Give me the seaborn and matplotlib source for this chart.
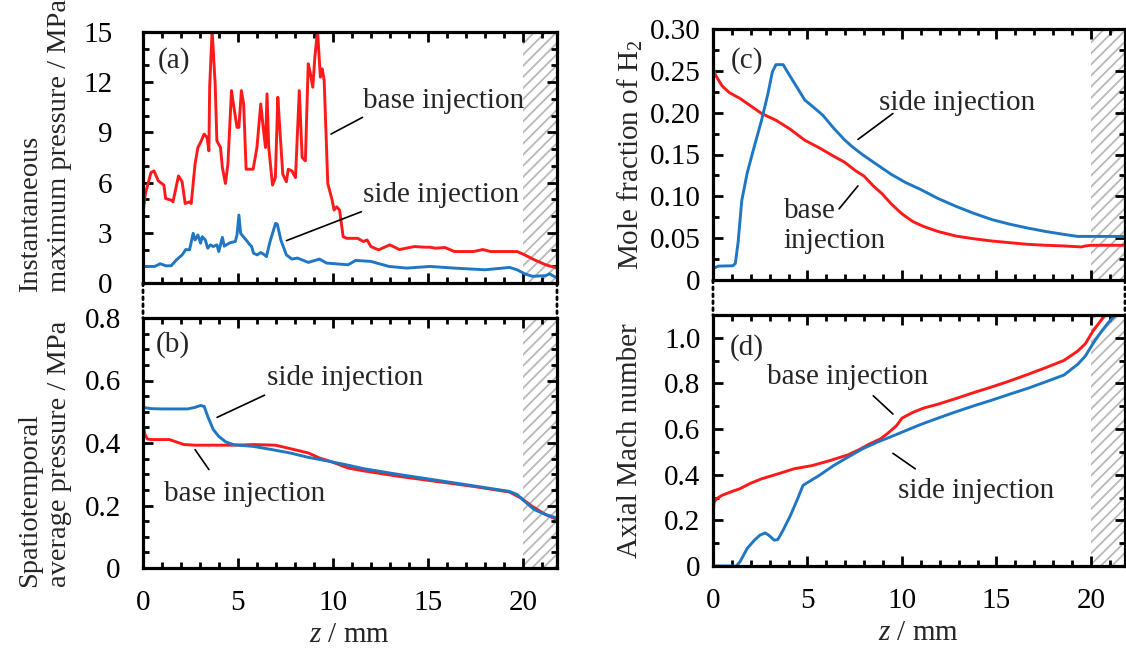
import numpy as np
import pandas as pd
import matplotlib
matplotlib.use('Agg')
import matplotlib.pyplot as plt
import seaborn as sns
from matplotlib.ticker import MultipleLocator, FuncFormatter
from matplotlib.patches import ConnectionPatch

# ---------------- data ----------------
# (a) instantaneous maximum pressure / MPa
a_base_z = [0, 0.13, 0.42, 0.58, 0.81, 1.1, 1.19, 1.48, 1.58, 1.87, 2.06, 2.22, 2.45, 2.54, 2.74, 2.89,
            3.03, 3.22, 3.37, 3.47, 3.51, 3.64, 3.8, 3.89, 4.08, 4.18, 4.34, 4.47, 4.66, 4.76, 4.95, 5.05,
            5.18, 5.3, 5.43, 5.8, 6.0, 6.2, 6.33, 6.45, 6.53, 6.62, 6.82, 6.97, 7.1, 7.2, 7.36, 7.55, 7.65,
            7.84, 8.03, 8.23, 8.38, 8.55, 8.7, 8.8, 8.94, 9.05, 9.19, 9.34, 9.44, 9.54, 9.67, 9.73, 9.96,
            10.06, 10.2, 10.35, 10.54, 10.73, 11.3, 11.6, 11.8, 12.0, 12.4, 13.0, 13.5, 14.3, 14.8, 15.1,
            15.4, 15.9, 16.4, 17.4, 17.9, 18.3, 19.7, 20.1, 20.6, 21.2, 21.8]
a_base_p = [4.26, 5.35, 6.6, 6.7, 6.1, 5.85, 5.05, 4.95, 4.85, 6.4, 6.05, 4.75, 4.85, 4.75, 7.1, 8.1,
            8.4, 8.9, 8.7, 7.9, 11.7, 15.1, 11.9, 8.5, 8.1, 6.9, 5.95, 7.1, 11.5, 10.7, 9.3, 9.3,
            11.5, 10.7, 6.8, 6.8, 8.1, 10.7, 9.3, 8.1, 11.3, 8.1, 5.85, 6.3, 11.1, 9.3, 6.5, 6.05, 6.8,
            6.7, 6.3, 11.5, 7.5, 7.3, 13.1, 12.6, 11.7, 13.5, 15.1, 12.3, 12.8, 12.1, 7.9, 5.95, 4.95,
            4.36, 4.55, 4.36, 2.77, 2.67, 2.67, 2.48, 2.57, 2.18, 1.98, 2.28, 2.0, 2.18, 2.14, 2.14,
            2.08, 2.12, 1.88, 1.88, 2.0, 1.88, 1.88, 1.68, 1.39, 1.09, 0.89]
a_side_z = [0, 0.62, 0.9, 1.2, 1.48, 1.77, 2.06, 2.25, 2.45, 2.64, 2.74, 2.89, 3.03, 3.12, 3.28, 3.41,
            3.55, 3.7, 3.89, 3.99, 4.18, 4.28, 4.57, 4.86, 4.95, 5.05, 5.14, 5.43, 5.63, 5.72, 5.82, 6.01,
            6.2, 6.4, 6.5, 6.69, 6.98, 7.07, 7.26, 7.55, 7.84, 8.13, 8.71, 9.29, 9.67, 10.8, 11.2, 12.0,
            12.95, 13.9, 15.1, 16.4, 18.0, 19.3, 19.7, 20.1, 20.5, 21.2, 21.4, 21.8]
a_side_p = [0.99, 0.99, 1.15, 1.03, 1.03, 1.39, 1.68, 2.0, 1.98, 2.97, 2.57, 2.87, 2.38, 2.77, 2.57, 2.08,
            2.28, 2.18, 2.28, 1.88, 2.73, 2.2, 2.4, 2.48, 2.87, 4.06, 2.97, 2.57, 2.28, 2.18, 1.78, 1.68,
            1.82, 1.68, 1.58, 2.48, 3.56, 3.52, 2.57, 1.68, 1.43, 1.49, 1.23, 1.43, 1.19, 1.09, 1.35, 1.29,
            0.99, 0.89, 0.99, 0.89, 0.79, 0.93, 0.79, 0.55, 0.40, 0.44, 0.55, 0.30]

# (b) spatiotemporal average pressure / MPa
b_base_z = [0, 0.1, 0.23, 0.42, 1.39, 1.77, 2.16, 2.74, 3.89, 4.86, 5.82, 6.97, 7.75, 8.71, 9.29, 9.87,
            10.8, 11.6, 13.5, 15.45, 17.4, 19.3, 19.9, 20.5, 21.2, 21.8]
b_base_p = [0.464, 0.427, 0.413, 0.411, 0.411, 0.403, 0.395, 0.393, 0.393, 0.393, 0.395, 0.393, 0.382,
            0.368, 0.352, 0.341, 0.32, 0.311, 0.293, 0.277, 0.261, 0.243, 0.224, 0.197, 0.171, 0.155]
b_side_z = [0, 0.42, 1.0, 2.35, 2.74, 3.03, 3.22, 3.41, 3.7, 3.99, 4.37, 4.76, 5.05, 5.82, 6.78, 7.75,
            8.71, 9.67, 10.8, 11.6, 13.5, 15.45, 17.4, 19.3, 19.7, 20.1, 20.6, 21.2, 21.8]
b_side_p = [0.514, 0.51, 0.509, 0.509, 0.514, 0.52, 0.517, 0.485, 0.443, 0.421, 0.403, 0.395, 0.393,
            0.389, 0.379, 0.368, 0.354, 0.343, 0.329, 0.318, 0.299, 0.281, 0.263, 0.245, 0.235, 0.213,
            0.187, 0.171, 0.16]

# (c) mole fraction of H2
c_base_z = [0, 0.13, 0.48, 0.86, 1.43, 2.0, 2.57, 3.33, 4.1, 4.86, 5.62, 6.38, 6.95, 7.52, 8.0, 8.48,
            8.95, 9.43, 10.0, 10.57, 11.14, 11.9, 12.86, 13.8, 14.76, 15.7, 16.67, 17.6, 18.57, 19.5,
            19.7, 20.0, 21.8]
c_base_x = [0.2546, 0.245, 0.232, 0.224, 0.217, 0.208, 0.199, 0.191, 0.18, 0.167, 0.158, 0.148, 0.141,
            0.131, 0.124, 0.1125, 0.103, 0.091, 0.079, 0.0699, 0.064, 0.058, 0.0525, 0.0493, 0.0466,
            0.0446, 0.0426, 0.0415, 0.0407, 0.0395, 0.0407, 0.0415, 0.0415]
c_side_z = [0, 0.29, 1.05, 1.18, 1.33, 1.52, 1.81, 2.19, 2.57, 2.91, 3.14, 3.33, 3.71, 4.1, 4.48, 4.86,
            5.24, 5.81, 6.38, 6.95, 7.33, 7.9, 8.67, 9.43, 10.19, 10.95, 11.9, 12.86, 13.8, 14.76, 15.7,
            16.67, 17.6, 18.57, 19.3, 20.0, 21.8]
c_side_x = [0.0138, 0.0166, 0.017, 0.0197, 0.0454, 0.0947, 0.128, 0.16, 0.191, 0.223, 0.2487, 0.2574,
            0.2574, 0.2428, 0.229, 0.215, 0.208, 0.197, 0.1816, 0.1678, 0.16, 0.15, 0.138, 0.1263, 0.1165,
            0.1086, 0.0975, 0.088, 0.0797, 0.0722, 0.0667, 0.062, 0.058, 0.0545, 0.0521, 0.0521, 0.0521]

# (d) axial Mach number
d_base_z = [0, 0.06, 0.19, 0.48, 1.05, 1.43, 2.0, 2.57, 3.33, 4.29, 5.24, 6.19, 7.14, 7.71, 8.29, 8.86,
            9.24, 9.71, 10.0, 10.57, 11.14, 11.9, 12.86, 13.8, 14.76, 15.7, 16.67, 17.6, 18.57, 19.3,
            19.7, 20.1, 20.5, 20.8]
d_base_m = [0.237, 0.28, 0.295, 0.31, 0.328, 0.339, 0.363, 0.382, 0.401, 0.426, 0.44, 0.462, 0.487,
            0.509, 0.535, 0.557, 0.581, 0.615, 0.648, 0.673, 0.692, 0.709, 0.734, 0.76, 0.785, 0.811,
            0.84, 0.869, 0.901, 0.942, 0.974, 1.029, 1.073, 1.109]
d_side_z = [0, 1.24, 1.43, 1.81, 2.19, 2.48, 2.76, 2.95, 3.24, 3.43, 3.71, 4.1, 4.48, 4.76, 4.95, 5.62,
            6.38, 7.14, 7.9, 8.67, 9.43, 10.19, 10.95, 11.9, 12.86, 13.8, 14.76, 15.7, 16.67, 17.6,
            18.57, 19.3, 19.7, 20.1, 20.5, 20.9, 21.3]
d_side_m = [0.0, 0.0, 0.019, 0.077, 0.113, 0.135, 0.145, 0.135, 0.113, 0.116, 0.157, 0.222, 0.295,
            0.353, 0.363, 0.397, 0.44, 0.477, 0.513, 0.542, 0.567, 0.593, 0.619, 0.648, 0.676, 0.702,
            0.727, 0.753, 0.779, 0.807, 0.837, 0.884, 0.92, 0.974, 1.022, 1.065, 1.1]

series_names = ['base injection', 'side injection']
colors = {'base injection': '#ff1a1a', 'side injection': '#1f77c4'}
panel_labels = ['(a)', '(b)', '(c)', '(d)']
ylabels = ['Instantaneous\nmaximum pressure / MPa',
           'Spatiotemporal\naverage pressure / MPa',
           r'Mole fraction of H$_2$',
           'Axial Mach number']
xlabel = r'$z$ / mm'
z_max = 21.8
exit_start = 20.0

# ---------------- style ----------------
sns.set_style('ticks')
plt.rcParams.update({
    'font.family': ['Liberation Serif', 'DejaVu Serif'],
    'mathtext.fontset': 'custom',
    'mathtext.rm': 'Liberation Serif',
    'mathtext.it': 'Liberation Serif:italic',
    'hatch.linewidth': 1.3,
    'axes.linewidth': 2.3,
    'font.size': 21,
})
FS = 21

W, H = 1126, 651
fig = plt.figure(figsize=(W / 100, H / 100), dpi=100)


def rect(l, t, r, b):
    return [l / W, 1 - b / H, (r - l) / W, (b - t) / H]


ax_a = fig.add_axes(rect(143, 32, 557, 283))
ax_b = fig.add_axes(rect(143, 318, 557, 568))
ax_c = fig.add_axes(rect(713, 29, 1125, 280))
ax_d = fig.add_axes(rect(713, 315, 1125, 566))


def long_df(bz, bv, sz, sv):
    return pd.concat([
        pd.DataFrame({'z': bz, 'v': bv, 'case': series_names[0]}),
        pd.DataFrame({'z': sz, 'v': sv, 'case': series_names[1]}),
    ], ignore_index=True)


dfs = [long_df(a_base_z, a_base_p, a_side_z, a_side_p),
       long_df(b_base_z, b_base_p, b_side_z, b_side_p),
       long_df(c_base_z, c_base_x, c_side_z, c_side_x),
       long_df(d_base_z, d_base_m, d_side_z, d_side_m)]
axes = [ax_a, ax_b, ax_c, ax_d]
ylims = [(0, 15), (0, 0.8), (0, 0.30), (0, 1.1)]
ymaj = [3, 0.2, 0.05, 0.2]
ymin = [1, 0.05, 0.025, 0.1]
fmts = [lambda v, p: '%g' % v,
        lambda v, p: '0' if abs(v) < 1e-9 else '%.1f' % v,
        lambda v, p: '0' if abs(v) < 1e-9 else '%.2f' % v,
        lambda v, p: '0' if abs(v) < 1e-9 else '%.1f' % v]
ypads = [22, 16, 9, 9]
panel_pos = [(0.8, 13.3), (0.65, 0.715), (0.95, 0.262), (0.9, 0.956)]

for i, (ax, df) in enumerate(zip(axes, dfs)):
    ax.axvspan(exit_start, z_max + 0.5, facecolor='white', edgecolor='#b8b8b8',
               hatch='///', linewidth=0, zorder=0)
    sns.lineplot(data=df, x='z', y='v', hue='case', palette=colors, ax=ax,
                 estimator=None, sort=False, legend=False, linewidth=2.1, zorder=3)
    ax.set_xlim(0, z_max)
    ax.set_ylim(*ylims[i])
    ax.xaxis.set_major_locator(MultipleLocator(5))
    ax.xaxis.set_minor_locator(MultipleLocator(1))
    ax.yaxis.set_major_locator(MultipleLocator(ymaj[i]))
    ax.yaxis.set_minor_locator(MultipleLocator(ymin[i]))
    ax.yaxis.set_major_formatter(FuncFormatter(fmts[i]))
    ax.tick_params(which='both', direction='in', top=True, right=True, width=2.0, colors='black')
    ax.tick_params(which='major', length=7)
    ax.tick_params(which='minor', length=4.5)
    ax.tick_params(axis='y', which='major', labelsize=FS, pad=ypads[i])
    ax.tick_params(axis='x', which='major', labelsize=FS, pad=16)
    ax.set_xlabel('')
    ax.set_ylabel('')
    for s in ax.spines.values():
        s.set_linewidth(2.3)
        s.set_color('black')
        s.set_zorder(5)
    ax.text(panel_pos[i][0], panel_pos[i][1], panel_labels[i], fontsize=FS, ha='left', va='center')

for ax in (ax_a, ax_c):
    ax.tick_params(axis='x', labelbottom=False)

# x labels
for ax in (ax_b, ax_d):
    ax.set_xlabel(xlabel, fontsize=FS, labelpad=4)

# y labels
fig.text(45 / W, 1 - 292 / H, ylabels[0], rotation=90, ha='center', va='bottom',
         multialignment='left', fontsize=20.5, linespacing=1.25)
fig.text(45 / W, 1 - 587 / H, ylabels[1], rotation=90, ha='center', va='bottom',
         multialignment='left', fontsize=20.5, linespacing=1.25)
fig.text(630 / W, 1 - 155 / H, ylabels[2], rotation=90, ha='center', va='center', fontsize=FS)
fig.text(630 / W, 1 - 441 / H, ylabels[3], rotation=90, ha='center', va='center', fontsize=FS)

# annotations: (axis, text, text position, leader start, leader end)
annots = [
    (ax_a, 'base injection', (11.56, 10.9), (9.9, 8.9), (11.56, 9.9)),
    (ax_a, 'side injection', (11.56, 5.25), (7.55, 2.53), (11.5, 4.26)),
    (ax_b, 'side injection', (6.55, 0.608), (3.9, 0.482), (6.4, 0.553)),
    (ax_b, 'base injection', (1.1, 0.237), (2.74, 0.379), (3.47, 0.315)),
    (ax_c, 'side injection', (8.76, 0.211), (7.67, 0.168), (9.52, 0.199)),
    (ax_c, 'base\ninjection', (3.75, 0.064), (6.67, 0.085), (7.67, 0.1125)),
    (ax_d, 'base injection', (2.86, 0.828), (9.52, 0.666), (8.48, 0.746)),
    (ax_d, 'side injection', (9.77, 0.328), (9.52, 0.494), (10.7, 0.426)),
]
for ax, txt, tpos, p0, p1 in annots:
    ax.text(tpos[0], tpos[1], txt, fontsize=FS, ha='left', va='center',
            multialignment='left', linespacing=1.2, zorder=6)
    ax.annotate('', xy=p1, xytext=p0,
                arrowprops=dict(arrowstyle='-', color='black', lw=1.2, shrinkA=0, shrinkB=0))

# dotted connectors between stacked panels
for top, bot in ((ax_a, ax_b), (ax_c, ax_d)):
    for xf in (0.0, 1.0):
        cp = ConnectionPatch(xyA=(xf, 0), coordsA=top.transAxes, xyB=(xf, 1), coordsB=bot.transAxes,
                             linestyle=(0, (1, 1.5)), color='black', lw=2.0)
        fig.add_artist(cp)

fig.savefig('out.png', dpi=100)
